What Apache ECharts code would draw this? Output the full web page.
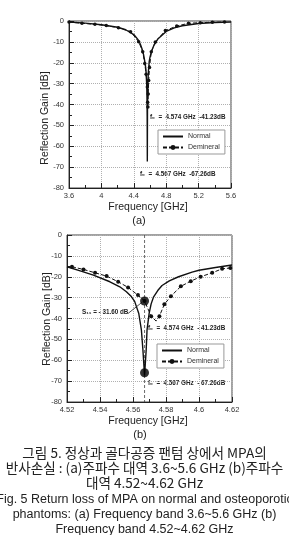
<!DOCTYPE html>
<html>
<head>
<meta charset="utf-8">
<script src="https://cdn.jsdelivr.net/npm/echarts@6/dist/echarts.min.js"></script>
<style>
html,body{margin:0;padding:0;background:#fff;}
#chart{width:289px;height:535px;}
</style>
</head>
<body>
<div id="chart"></div>
<script>
// (a) 3.6 ~ 5.6 GHz
const freqNormalA = [3.6, 3.8, 4.0, 4.2, 4.3, 4.4, 4.45, 4.48, 4.5, 4.52, 4.54, 4.55, 4.56, 4.563, 4.565, 4.567, 4.569, 4.571, 4.575, 4.58, 4.59, 4.6, 4.62, 4.65, 4.7, 4.8, 4.9, 5.0, 5.2, 5.4, 5.6];
const gainNormalA = [-0.5, -1.0, -1.8, -3.0, -4.2, -6.5, -8.8, -11, -13.2, -16, -20.3, -23.5, -31, -37.6, -45.6, -67.26, -42, -35, -28.5, -24.3, -19.5, -17.3, -14.4, -11.5, -8.5, -5, -3.3, -2.3, -1.2, -0.7, -0.5];
const freqDeminA = [3.6, 3.76, 3.92, 4.06, 4.21, 4.36, 4.46, 4.51, 4.535, 4.552, 4.567, 4.571, 4.574, 4.578, 4.584, 4.594, 4.616, 4.666, 4.79, 4.93, 5.075, 5.22, 5.37, 5.52];
const gainDeminA = [-0.5, -1.1, -1.6, -2.2, -3.2, -5.1, -9.9, -14.7, -20.3, -25.5, -31.6, -38.9, -41.23, -35, -28.5, -22.3, -14.7, -10, -4.6, -2.4, -1.1, -0.8, -0.6, -0.5];

// (b) 4.52 ~ 4.62 GHz
const freqNormalB = [4.52, 4.528, 4.536, 4.546, 4.552, 4.556, 4.559, 4.561, 4.5635, 4.5651, 4.566, 4.567, 4.568, 4.5685, 4.5698, 4.571, 4.5725, 4.575, 4.5776, 4.582, 4.5876, 4.5958, 4.6, 4.61, 4.62];
const gainNormalB = [-15.2, -17.2, -19.2, -22.4, -24.8, -27.2, -29.5, -31.8, -37.6, -45.6, -55, -67.26, -55, -45.6, -37.4, -33, -29.6, -26.6, -24.2, -22, -20, -17.8, -16.9, -15.6, -14.4];
const freqDeminB = [4.523, 4.530, 4.537, 4.544, 4.551, 4.557, 4.563, 4.567, 4.571, 4.574, 4.576, 4.579, 4.583, 4.589, 4.595, 4.601, 4.608, 4.614, 4.619];
const gainDeminB = [-15.2, -16.5, -18.1, -19.7, -22.4, -25.1, -28.8, -31.6, -38.9, -41.23, -38.9, -33.2, -29.3, -24.6, -22.1, -20, -18.1, -16.2, -15.8];

const resonanceFreq = 4.567;
const bigDots = [[4.567, -31.6], [4.567, -66]];
const s11Leader = [[4.557, -37.6], [4.5655, -32.2]];

const xTicksA = {min: 3.6, max: 5.6, interval: 0.4};
const xTicksB = {min: 4.52, max: 4.62, interval: 0.02};
const yTicks = {min: -80, max: 0, interval: 10};

const zip = (xs, ys) => xs.map((x, i) => [x, ys[i]]);
const fmt = v => String(Math.round(v * 100) / 100);
const ink = '#222';

function xAxisOf(idx, t) {
  return {
    type: 'value', gridIndex: idx, min: t.min, max: t.max, interval: t.interval,
    axisLine: {show: true, onZero: false, lineStyle: {color: ink, width: 1}},
    axisTick: {show: true, inside: true, length: 5, lineStyle: {color: ink}},
    minorTick: {show: true, splitNumber: 2, length: 3, lineStyle: {color: ink}},
    splitLine: {show: true, lineStyle: {type: 'dotted', color: '#b0b0b0'}},
    axisLabel: {fontSize: 7.5, color: '#333', margin: 4, fontFamily: 'Liberation Sans', formatter: fmt}
  };
}
function yAxisOf(idx) {
  return {
    type: 'value', gridIndex: idx, min: yTicks.min, max: yTicks.max, interval: yTicks.interval,
    axisLine: {show: true, onZero: false, lineStyle: {color: ink, width: 1}},
    axisTick: {show: true, inside: true, length: 5, lineStyle: {color: ink}},
    minorTick: {show: true, splitNumber: 2, length: 3, lineStyle: {color: ink}},
    splitLine: {show: true, lineStyle: {type: 'dotted', color: '#b0b0b0'}},
    axisLabel: {fontSize: 7.5, color: '#333', margin: 5, fontFamily: 'Liberation Sans'}
  };
}

const normalStyle = {color: '#111', width: 1.4};
const deminStyle = {color: '#111', width: 1, type: [4, 2]};

function txt(x, y, text, font, extra, rotation) {
  return {
    type: 'text', x: x, y: y, rotation: rotation || 0,
    style: Object.assign({text: text, font: font, fill: '#222', textAlign: 'center', textVerticalAlign: 'middle'}, extra || {})
  };
}
const annFont = 'bold 6.3px "Liberation Sans"';
const capKo = '13.6px "Noto Sans CJK KR"';
const capEn = '12.5px "Liberation Sans"';

function legendAt(left, top) {
  return {
    left: left, top: top, orient: 'vertical',
    data: [{name: 'Normal', itemStyle: {opacity: 0}}, 'Demineral'],
    itemWidth: 20, itemHeight: 6, itemGap: 4,
    padding: [3, 5, 3, 4], borderColor: '#999', borderWidth: 1, backgroundColor: '#fff',
    textStyle: {fontSize: 7, color: '#333', fontFamily: 'Liberation Sans'}, selectedMode: false
  };
}

const chart = echarts.init(document.getElementById('chart'));
chart.setOption({
  animation: false,
  backgroundColor: '#fff',
  grid: [
    {left: 69, top: 21, width: 162, height: 167, show: true, borderColor: '#444', borderWidth: 1},
    {left: 67, top: 235, width: 165, height: 167, show: true, borderColor: '#444', borderWidth: 1}
  ],
  xAxis: [xAxisOf(0, xTicksA), xAxisOf(1, xTicksB)],
  yAxis: [yAxisOf(0), yAxisOf(1)],
  legend: [legendAt(158, 130), legendAt(157, 344)],
  series: [
    {name: 'Normal', type: 'line', xAxisIndex: 0, yAxisIndex: 0, data: zip(freqNormalA, gainNormalA),
     symbol: 'none', lineStyle: normalStyle, itemStyle: {color: '#111'}, z: 3},
    {name: 'Demineral', type: 'line', xAxisIndex: 0, yAxisIndex: 0, data: zip(freqDeminA, gainDeminA),
     symbol: 'circle', symbolSize: 3.5, lineStyle: deminStyle, itemStyle: {color: '#111'}, z: 4},
    {type: 'line', xAxisIndex: 1, yAxisIndex: 1, data: [[resonanceFreq, yTicks.max], [resonanceFreq, yTicks.min]],
     symbol: 'none', lineStyle: {color: '#444', width: 0.8, type: [3, 2]}, z: 2},
    {name: 'Normal', type: 'line', xAxisIndex: 1, yAxisIndex: 1, data: zip(freqNormalB, gainNormalB),
     symbol: 'none', lineStyle: normalStyle, itemStyle: {color: '#111'}, z: 3},
    {name: 'Demineral', type: 'line', xAxisIndex: 1, yAxisIndex: 1,
     data: zip(freqDeminB, gainDeminB).map(p => p[1] === -41.23 ? {value: p, symbol: 'none'} : p),
     symbol: 'circle', symbolSize: 4, lineStyle: deminStyle, itemStyle: {color: '#111'}, z: 4},
    {type: 'line', xAxisIndex: 1, yAxisIndex: 1, data: s11Leader, symbol: 'none',
     lineStyle: {color: '#222', width: 0.8}, z: 5},
    {type: 'scatter', xAxisIndex: 1, yAxisIndex: 1, data: bigDots, symbolSize: 9,
     itemStyle: {color: '#000'}, z: 6}
  ],
  graphic: [
    txt(45, 118, 'Reflection Gain [dB]', '10.5px "Liberation Sans"', null, Math.PI / 2),
    txt(47, 319, 'Reflection Gain [dB]', '10.5px "Liberation Sans"', null, Math.PI / 2),
    txt(148, 207, 'Frequency [GHz]', '10.5px "Liberation Sans"'),
    txt(139, 221, '(a)', '11px "Liberation Sans"'),
    txt(148, 421, 'Frequency [GHz]', '10.5px "Liberation Sans"'),
    txt(140, 435, '(b)', '11px "Liberation Sans"'),
    txt(150, 117, 'f\u2080  =  4.574 GHz  -41.23dB', annFont, {textAlign: 'left'}),
    txt(140, 174, 'f\u2080  =  4.567 GHz  -67.26dB', annFont, {textAlign: 'left'}),
    txt(82, 312, 'S\u2081\u2081 = - 31.60 dB', annFont, {textAlign: 'left'}),
    txt(148, 328, 'f\u2080  =  4.574 GHz  - 41.23dB', annFont, {textAlign: 'left'}),
    txt(148, 383, 'f\u2080  =  4.567 GHz  - 67.26dB', annFont, {textAlign: 'left'}),
    txt(144.5, 453, '그림 5. 정상과 골다공증 팬텀 상에서 MPA의', capKo),
    txt(144.5, 468, '반사손실 : (a)주파수 대역 3.6~5.6 GHz (b)주파수', capKo),
    txt(144.5, 483, '대역 4.52~4.62 GHz', capKo),
    txt(144.5, 500, 'Fig. 5 Return loss of MPA on normal and osteoporotic', capEn),
    txt(144.5, 515, 'phantoms: (a) Frequency band 3.6~5.6 GHz (b)', capEn),
    txt(144.5, 530, 'Frequency band 4.52~4.62 GHz', capEn)
  ]
});
</script>
</body>
</html>
